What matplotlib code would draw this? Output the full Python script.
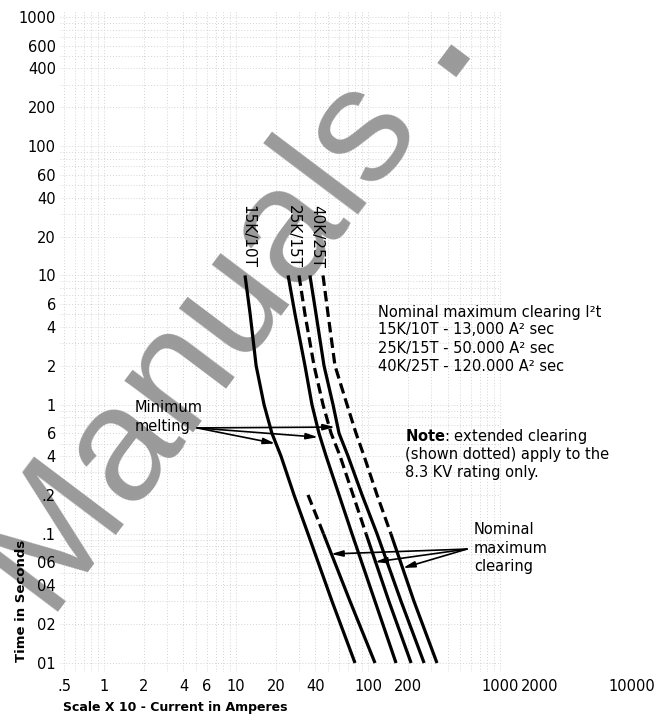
import matplotlib
matplotlib.use("Agg")
import matplotlib.pyplot as plt
import numpy as np

W, H = 663, 719

# time-current points (current is "scale x 10" amperes, time in seconds)
t_curve = [10, 5, 2, 1, 0.6, 0.4, 0.2, 0.1, 0.03, 0.01]
melt_15k = [11.7, 12.8, 14.2, 16.3, 18.7, 21.9, 27.5, 35.1, 53.4, 79.7]
melt_25k = [24.8, 28.0, 33.3, 37.6, 42.5, 48.1, 60.3, 75.6, 113, 163]
clear_25k = [30.0, 33.3, 39.0, 45.6, 52.5, 61.4, 77.0, 96.6, 144, 212]
melt_40k = [36.3, 40.4, 46.4, 54.3, 60.3, 70.5, 90.1, 117, 178, 266]
clear_40k = [45.6, 49.8, 56.2, 69.3, 81.1, 93.3, 117, 149, 223, 333]
t_clear_15k = [0.2, 0.1, 0.03, 0.01]
clear_15k = [35.1, 46.0, 73.1, 113]
t_extended = 0.1  # clearing curves are dotted above this time

fuse_labels = ["15K/10T", "25K/15T", "40K/25T"]

y_ticks = [1000, 600, 400, 200, 100, 60, 40, 20, 10, 6, 4, 2, 1,
           0.6, 0.4, 0.2, 0.1, 0.06, 0.04, 0.02, 0.01]
y_ticklabels = ["1000", "600", "400", "200", "100", "60", "40", "20", "10",
                "6", "4", "2", "1", "6", "4", ".2", ".1", "06", "04", "02", "01"]
x_ticks = [0.5, 1, 2, 4, 6, 10, 20, 40, 100, 200, 1000, 2000, 10000]
x_ticklabels = [".5", "1", "2", "4", "6", "10", "20", "40", "100", "200",
                "1000", "2000", "10000"]

i2t_lines = ["Nominal maximum clearing I\u00b2t",
             "15K/10T - 13,000 A\u00b2 sec",
             "25K/15T - 50.000 A\u00b2 sec",
             "40K/25T - 120.000 A\u00b2 sec"]
note_lines = [r"$\mathbf{Note}$: extended clearing",
              "(shown dotted) apply to the",
              "8.3 KV rating only."]

melt_arrow_from = (5.07, 0.66)
melt_arrow_to = [(56.2, 0.67), (41.8, 0.56), (19.8, 0.50)]
clear_arrow_from = (562, 0.0762)
clear_arrow_to = [(52.4, 0.0698), (113, 0.0605), (184, 0.0544)]


def px(x, y):
    return x / W, 1 - y / H


fig = plt.figure(figsize=(W / 100, H / 100), dpi=100)
ax = fig.add_axes([60 / W, 1 - 672 / H, 590 / W, 662 / H])
ax.set_xscale("log")
ax.set_yscale("log")
ax.set_xlim(0.464, 13680)
ax.set_ylim(0.00852, 1133)
for s in ax.spines.values():
    s.set_visible(False)
ax.set_xticks(x_ticks)
ax.set_xticklabels(x_ticklabels)
ax.set_yticks(y_ticks)
ax.set_yticklabels(y_ticklabels)
ax.minorticks_off()
ax.tick_params(length=0, labelsize=10.5)
ax.tick_params(axis="x", pad=5)
ax.tick_params(axis="y", pad=3)

# faint log-paper grid behind everything
grid_x = [m * 10.0 ** d for d in range(0, 3) for m in range(1, 10)] + [0.5, 0.6, 0.7, 0.8, 0.9, 1000]
grid_t = [m * 10.0 ** d for d in range(-2, 3) for m in range(1, 10)] + [1000]
ax.vlines(grid_x, 0.00852, 1133, color="#d4d4d4", lw=0.7, ls=(0, (1, 2)), zorder=0.5)
ax.hlines(grid_t, 0.464, 1000, color="#d4d4d4", lw=0.7, ls=(0, (1, 2)), zorder=0.5)

# watermark
ax.text(*px(45, 612), "Manuals", transform=fig.transFigure, rotation=53,
        rotation_mode="anchor", ha="left", va="baseline", fontsize=118,
        family="Liberation Sans", color="#9a9a9a", zorder=1.2)
ax.text(*px(452, 58), "\u25a0", transform=fig.transFigure, rotation=53,
        rotation_mode="anchor", ha="center", va="center", fontsize=22,
        family="DejaVu Sans", color="#9a9a9a", zorder=1.2)

lw = 2.3
dash = (0, (3.3, 1.6))
t_curve = np.array(t_curve)
for cur in (melt_15k, melt_25k, melt_40k):
    ax.plot(cur, t_curve, color="k", lw=lw, zorder=3, solid_capstyle="butt")
for cur in (clear_25k, clear_40k):
    cur = np.array(cur)
    ext = t_curve >= t_extended
    short = t_curve <= t_extended
    ax.plot(cur[ext], t_curve[ext], color="k", lw=lw, ls=dash, zorder=3)
    ax.plot(cur[short], t_curve[short], color="k", lw=lw, zorder=3,
            solid_capstyle="butt")
t15 = np.array(t_clear_15k)
c15 = np.array(clear_15k)
ax.plot(c15[t15 >= t_extended], t15[t15 >= t_extended], color="k", lw=lw, ls=dash, zorder=3)
ax.plot(c15[t15 <= t_extended], t15[t15 <= t_extended], color="k", lw=lw, zorder=3,
        solid_capstyle="butt")

# fuse names written down above the melting curves
label_x = [melt_15k[0] * 1.05, np.sqrt(melt_25k[0] * clear_25k[0]),
           np.sqrt(melt_40k[0] * clear_40k[0])]
for name, x in zip(fuse_labels, label_x):
    ax.text(x, t_curve[0] * 1.15, name, rotation=-90, ha="center", va="bottom",
            fontsize=11, zorder=4)

arrow = dict(arrowstyle="-|>,head_length=0.7,head_width=0.18", color="k", lw=1.2,
             shrinkA=0, shrinkB=0, mutation_scale=10)
for tgt in melt_arrow_to:
    ax.annotate("", xy=tgt, xytext=melt_arrow_from, arrowprops=arrow, zorder=4)
for tgt in clear_arrow_to:
    ax.annotate("", xy=tgt, xytext=clear_arrow_from, arrowprops=arrow, zorder=4)

fs = 10.5
for i, line in enumerate(["Minimum", "melting"]):
    fig.text(*px(135, 408 + 19 * i), line, fontsize=fs, va="center", ha="left")
for i, line in enumerate(["Nominal", "maximum", "clearing"]):
    fig.text(*px(474, 530 + 18.5 * i), line, fontsize=fs, va="center", ha="left")
for i, line in enumerate(i2t_lines):
    fig.text(*px(378, 312 + 18 * i), line, fontsize=fs, va="center", ha="left")
for i, line in enumerate(note_lines):
    fig.text(*px(405, 436 + 18.3 * i), line, fontsize=fs, va="center", ha="left")

fig.text(*px(22, 601), "Time in Seconds", rotation=90, fontsize=9.5,
         fontweight="bold", ha="center", va="center")
fig.text(*px(63, 707), "Scale X 10 - Current in Amperes", fontsize=9,
         fontweight="bold", ha="left", va="center")

fig.savefig("out.png", dpi=100)
